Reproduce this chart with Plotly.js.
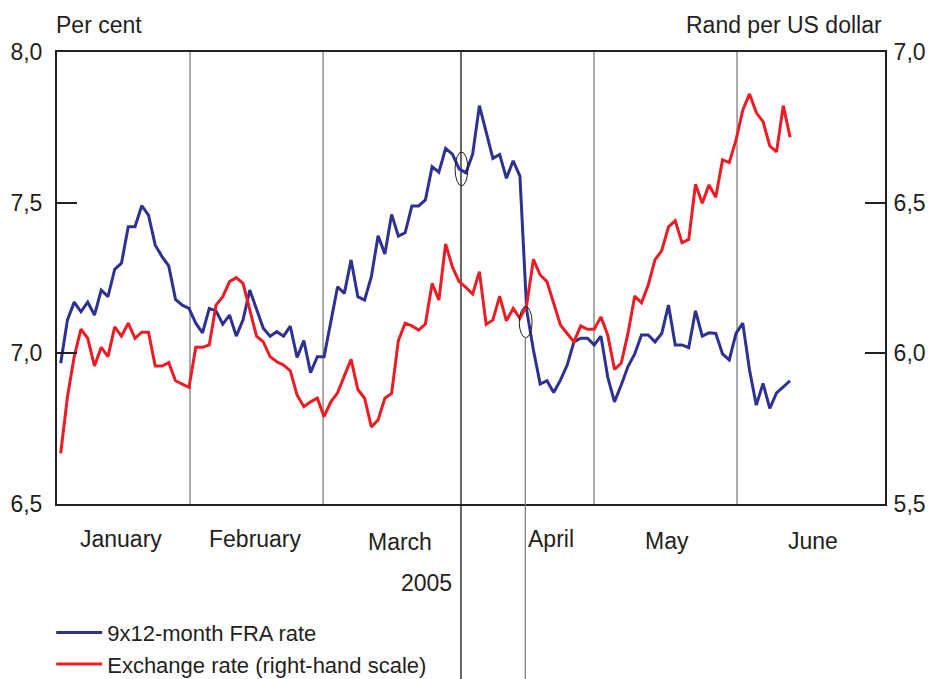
<!DOCTYPE html>
<html>
<head>
<meta charset="utf-8">
<script src="https://cdn.plot.ly/plotly-3.0.1.min.js"></script>
<style>
  html, body { margin: 0; padding: 0; background: #ffffff; }
  #chart { width: 938px; height: 679px; }
</style>
</head>
<body>
<div id="chart"></div>
<script>
// Business-day index (0 = first observation of January 2005)
const fraRate = [
  6.967, 7.111, 7.170, 7.138, 7.170, 7.127, 7.210, 7.188, 7.279, 7.299,
  7.420, 7.420, 7.490, 7.459, 7.359, 7.321, 7.290, 7.179, 7.160, 7.149,
  7.100, 7.068, 7.149, 7.141, 7.097, 7.127, 7.057, 7.111, 7.210, 7.144,
  7.083, 7.057, 7.072, 7.057, 7.090, 6.986, 7.042, 6.936, 6.989, 6.989,
  7.100, 7.221, 7.199, 7.310, 7.188, 7.177, 7.254, 7.390, 7.330, 7.461,
  7.389, 7.400, 7.489, 7.489, 7.509, 7.619, 7.601, 7.680, 7.661, 7.612,
  7.599, 7.661, 7.822, 7.735, 7.647, 7.660, 7.581, 7.639, 7.588, 7.144,
  7.011, 6.898, 6.909, 6.870, 6.911, 6.961, 7.038, 7.050, 7.050, 7.028,
  7.057, 6.922, 6.839, 6.895, 6.956, 6.998, 7.061, 7.061, 7.038, 7.066,
  7.160, 7.028, 7.028, 7.019, 7.141, 7.057, 7.068, 7.066, 6.998, 6.978,
  7.066, 7.100, 6.945, 6.828, 6.900, 6.817, 6.869, 6.889, 6.909
];
const exchangeRate = [
  5.668, 5.856, 5.989, 6.080, 6.050, 5.958, 6.020, 5.989, 6.088, 6.057,
  6.100, 6.050, 6.070, 6.070, 5.958, 5.958, 5.969, 5.909, 5.898, 5.887,
  6.020, 6.020, 6.028, 6.160, 6.188, 6.238, 6.251, 6.232, 6.144, 6.057,
  6.038, 5.989, 5.972, 5.961, 5.942, 5.862, 5.823, 5.839, 5.851, 5.790,
  5.839, 5.869, 5.925, 5.980, 5.880, 5.851, 5.756, 5.779, 5.851, 5.867,
  6.042, 6.100, 6.091, 6.077, 6.097, 6.232, 6.177, 6.363, 6.287, 6.238,
  6.219, 6.197, 6.271, 6.096, 6.111, 6.190, 6.108, 6.149, 6.116, 6.160,
  6.312, 6.260, 6.238, 6.166, 6.094, 6.066, 6.038, 6.091, 6.080, 6.080,
  6.121, 6.061, 5.947, 5.967, 6.066, 6.190, 6.168, 6.227, 6.310, 6.341,
  6.420, 6.440, 6.367, 6.378, 6.561, 6.498, 6.559, 6.518, 6.642, 6.633,
  6.708, 6.807, 6.861, 6.799, 6.769, 6.688, 6.669, 6.822, 6.717
];
const dayIndex = fraRate.map((_, i) => i);

const monthLabels = ["January", "February", "March", "April", "May", "June"];
const monthLabelPos = [8.9, 28.9, 50.2, 72.6, 89.8, 111.4];
const monthLabelY = [-0.077, -0.077, -0.084, -0.077, -0.082, -0.082];
const monthBoundaries = [19.15, 38.85, 59.27, 78.97, 100.15];
const leftTicks = [6.5, 7.0, 7.5, 8.0];
const rightTicks = [5.5, 6.0, 6.5, 7.0];

const BLUE = "#2e3192";
const RED = "#ed1c24";
const INK = "#231f20";
const FONT = "Liberation Sans, Arial, sans-serif";
const FS = 23;

const traces = [
  {
    x: dayIndex, y: fraRate, type: "scatter", mode: "lines",
    name: "9x12-month FRA rate",
    line: { color: BLUE, width: 3 }, yaxis: "y"
  },
  {
    x: dayIndex, y: exchangeRate, type: "scatter", mode: "lines",
    name: "Exchange rate (right-hand scale)",
    line: { color: RED, width: 3 }, yaxis: "y2"
  }
];

const shapes = monthBoundaries.map(b => ({
  type: "line", xref: "x", yref: "paper", x0: b, x1: b, y0: 0, y1: 1,
  line: { color: "#555555", width: 1 }, layer: "below"
}));
// callout lines extending below the plot
shapes.push({
  type: "line", xref: "x", yref: "paper", x0: 59.27, x1: 59.27, y0: -0.39, y1: 1,
  line: { color: "#666666", width: 2 }, layer: "below"
});
shapes.push({
  type: "line", xref: "x", yref: "paper", x0: 68.8, x1: 68.8, y0: -0.39, y1: 0.367,
  line: { color: "#777777", width: 1.2 }
});
// callout ellipses
shapes.push({
  type: "circle", xref: "x", yref: "y", x0: 58.4, x1: 60.3, y0: 7.556, y1: 7.668,
  line: { color: INK, width: 1 }
});
shapes.push({
  type: "circle", xref: "x", yref: "y", x0: 67.9, x1: 69.8, y0: 7.052, y1: 7.155,
  line: { color: INK, width: 1 }
});

const annotations = monthLabels.map((m, i) => ({
  text: m, xref: "x", yref: "paper", x: monthLabelPos[i], y: monthLabelY[i],
  xanchor: "center", yanchor: "middle", showarrow: false,
  font: { family: FONT, size: FS, color: INK }
}));
annotations.push({
  text: "2005", xref: "x", yref: "paper", x: 54.1, y: -0.175,
  xanchor: "center", yanchor: "middle", showarrow: false,
  font: { family: FONT, size: FS, color: INK }
});
annotations.push({
  text: "Per cent", xref: "paper", yref: "paper", x: -0.004, y: 1.06,
  xanchor: "left", yanchor: "middle", showarrow: false,
  font: { family: FONT, size: FS, color: INK }
});
annotations.push({
  text: "Rand per US dollar", xref: "paper", yref: "paper", x: 0.999, y: 1.06,
  xanchor: "right", yanchor: "middle", showarrow: false,
  font: { family: FONT, size: FS, color: INK }
});

const layout = {
  width: 938, height: 679,
  margin: { l: 57, r: 53, t: 52, b: 175, autoexpand: false },
  paper_bgcolor: "#ffffff", plot_bgcolor: "#ffffff",
  separators: ",.",
  font: { family: FONT, size: FS, color: INK },
  showlegend: true,
  legend: {
    x: -0.007, xanchor: "left", y: -0.238, yanchor: "top",
    bgcolor: "rgba(0,0,0,0)", font: { family: FONT, size: 22, color: INK },
    itemwidth: 46
  },
  xaxis: {
    range: [-0.548, 122.06], showgrid: false, zeroline: false,
    showticklabels: false, ticks: "", showline: true, mirror: true,
    linecolor: INK, linewidth: 2, fixedrange: true
  },
  yaxis: {
    range: [6.5, 8.0], tickvals: leftTicks, tickformat: ".1f",
    ticks: "inside", ticklen: 20, tickwidth: 2, tickcolor: INK,
    showline: true, linecolor: INK, linewidth: 2,
    showgrid: false, zeroline: false, ticklabelstandoff: 8,
    tickfont: { family: FONT, size: FS, color: INK }
  },
  yaxis2: {
    range: [5.5, 7.0], tickvals: rightTicks, tickformat: ".1f",
    overlaying: "y", side: "right",
    ticks: "inside", ticklen: 20, tickwidth: 2, tickcolor: INK,
    showline: true, linecolor: INK, linewidth: 2,
    showgrid: false, zeroline: false, ticklabelstandoff: 2,
    tickfont: { family: FONT, size: FS, color: INK }
  },
  shapes: shapes,
  annotations: annotations
};

Plotly.newPlot("chart", traces, layout, { displayModeBar: false, staticPlot: true });
</script>
</body>
</html>
